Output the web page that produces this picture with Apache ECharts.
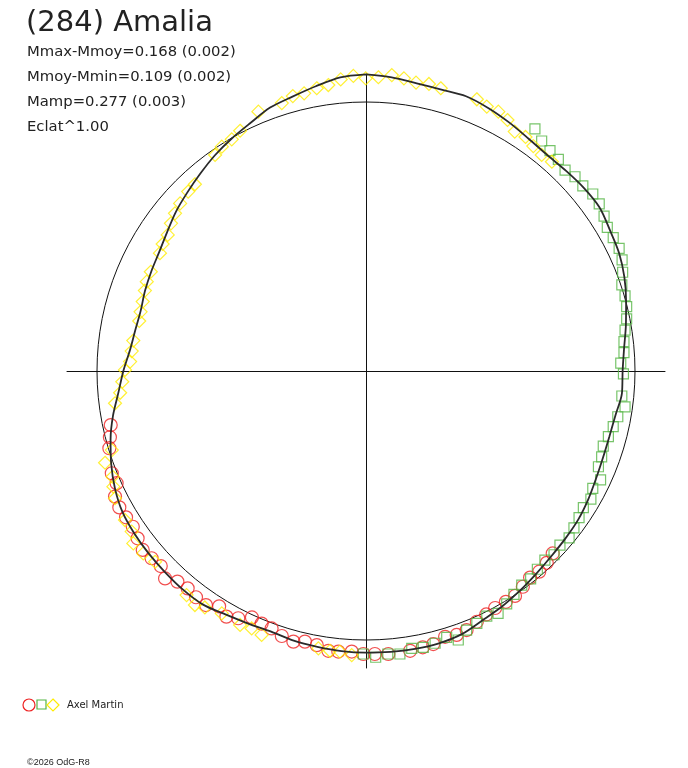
<!DOCTYPE html>
<html lang="fr">
<head>
<meta charset="utf-8">
<title>(284) Amalia</title>
<script src="https://cdn.jsdelivr.net/npm/echarts@6/dist/echarts.min.js"></script>
<style>
    html, body { margin: 0; padding: 0; background: #fff; }
    #main { width: 688px; height: 768px; }
</style>
</head>
<body>
<div id="main"></div>
<script type="text/javascript">

    // fitted curve: radius (1 = mean magnitude circle) every 5 degrees of phase, clockwise from top
    var curveR = [
        1.103, 1.096, 1.086, 1.083, 1.087, 1.078, 1.066, 1.054, 1.048, 1.052, 1.058, 1.060,
        1.047, 1.038, 1.022, 1.001, 0.981, 0.963, 0.954, 0.955, 0.942, 0.937, 0.938, 0.944,
        0.954, 0.963, 0.968, 0.974, 0.984, 0.997, 1.011, 1.023, 1.041, 1.048, 1.049, 1.048,
        1.047, 1.045, 1.041, 1.038, 1.031, 1.036, 1.045, 1.059, 1.060, 1.057, 1.055, 1.052,
        1.046, 1.030, 1.008, 0.983, 0.955, 0.924, 0.902, 0.881, 0.871, 0.867, 0.874, 0.880,
        0.887, 0.902, 0.922, 0.939, 0.958, 0.979, 0.998, 1.017, 1.042, 1.056, 1.075, 1.096
    ];

    // measurements (x, y) in units of the mean circle radius
    var redPts = [
        [-0.949, -0.201], [-0.952, -0.246], [-0.954, -0.287], [-0.945, -0.380], [-0.927, -0.417],
        [-0.933, -0.467], [-0.917, -0.507], [-0.892, -0.544], [-0.867, -0.579], [-0.849, -0.622],
        [-0.830, -0.665], [-0.797, -0.696], [-0.763, -0.725], [-0.747, -0.771], [-0.701, -0.783],
        [-0.663, -0.808], [-0.632, -0.841], [-0.595, -0.870], [-0.546, -0.875], [-0.519, -0.913],
        [-0.475, -0.919], [-0.424, -0.916], [-0.388, -0.939], [-0.351, -0.957], [-0.313, -0.985],
        [-0.270, -1.006], [-0.227, -1.006], [-0.183, -1.019], [-0.140, -1.040], [-0.103, -1.043],
        [-0.053, -1.043], [-0.010, -1.052], [0.033, -1.052], [0.083, -1.052], [0.164, -1.040],
        [0.211, -1.027], [0.250, -1.015], [0.294, -0.988], [0.337, -0.981], [0.374, -0.963],
        [0.412, -0.932], [0.447, -0.905], [0.480, -0.881], [0.520, -0.858], [0.554, -0.836],
        [0.583, -0.802], [0.610, -0.768], [0.644, -0.746], [0.672, -0.713], [0.694, -0.678]
    ];

    var greenPts = [
        [-0.010, -1.052], [0.036, -1.064], [0.081, -1.052], [0.126, -1.052], [0.170, -1.031],
        [0.213, -1.027], [0.257, -1.012], [0.300, -0.990], [0.343, -1.000], [0.374, -0.963],
        [0.412, -0.938], [0.449, -0.911], [0.491, -0.901], [0.523, -0.866], [0.550, -0.830],
        [0.579, -0.796], [0.612, -0.773], [0.637, -0.737], [0.665, -0.703], [0.699, -0.683],
        [0.721, -0.647], [0.755, -0.620], [0.773, -0.583], [0.792, -0.545], [0.808, -0.508],
        [0.836, -0.476], [0.843, -0.436], [0.872, -0.405], [0.864, -0.356], [0.876, -0.319],
        [0.882, -0.279], [0.901, -0.244], [0.919, -0.207], [0.936, -0.170], [0.963, -0.133],
        [0.951, -0.093], [0.957, -0.011], [0.947, 0.029], [0.959, 0.068], [0.959, 0.109],
        [0.963, 0.152], [0.969, 0.194], [0.969, 0.239], [0.963, 0.279], [0.951, 0.320],
        [0.954, 0.367], [0.952, 0.413], [0.941, 0.456], [0.919, 0.496], [0.897, 0.534],
        [0.885, 0.576], [0.867, 0.621], [0.843, 0.658], [0.806, 0.688], [0.777, 0.722],
        [0.740, 0.747], [0.715, 0.787], [0.684, 0.819], [0.653, 0.855], [0.628, 0.900]
    ];

    var yellowPts = [
        [-0.053, -1.056], [-0.097, -1.043], [-0.134, -1.040], [-0.177, -1.031], [-0.388, -0.981],
        [-0.425, -0.957], [-0.468, -0.944], [-0.536, -0.901], [-0.599, -0.879], [-0.636, -0.870],
        [-0.667, -0.833], [-0.784, -0.709], [-0.828, -0.678], [-0.865, -0.641], [-0.871, -0.597],
        [-0.896, -0.554], [-0.933, -0.473], [-0.939, -0.430], [-0.942, -0.393], [-0.970, -0.341],
        [-0.945, -0.294], [-0.933, -0.120], [-0.914, -0.081], [-0.906, -0.040], [-0.896, 0.004],
        [-0.877, 0.035], [-0.871, 0.074], [-0.865, 0.113], [-0.843, 0.186], [-0.838, 0.220],
        [-0.830, 0.258], [-0.822, 0.299], [-0.815, 0.332], [-0.800, 0.369], [-0.766, 0.438],
        [-0.756, 0.472], [-0.737, 0.506], [-0.725, 0.549], [-0.710, 0.586], [-0.691, 0.623],
        [-0.661, 0.667], [-0.636, 0.694], [-0.561, 0.803], [-0.536, 0.834], [-0.499, 0.861],
        [-0.468, 0.893], [-0.400, 0.964], [-0.313, 0.996], [-0.272, 1.022], [-0.230, 1.032],
        [-0.183, 1.051], [-0.140, 1.063], [-0.094, 1.084], [-0.047, 1.097], [-0.001, 1.088],
        [0.046, 1.092], [0.096, 1.100], [0.141, 1.088], [0.186, 1.072], [0.234, 1.067],
        [0.278, 1.051], [0.412, 1.010], [0.449, 0.983], [0.492, 0.964], [0.526, 0.933],
        [0.553, 0.890], [0.593, 0.870], [0.622, 0.836], [0.653, 0.803], [0.691, 0.778]
    ];

    var infoLines = [
        'Mmax-Mmoy=0.168 (0.002)',
        'Mmoy-Mmin=0.109 (0.002)',
        'Mamp=0.277 (0.003)',
        'Eclat^1.00'
    ];

    var RED = '#ee2222', GREEN = '#55b545', YELLOW = '#ffec00';
    var FONT = '"DejaVu Sans", Verdana, sans-serif';

    var myChart = echarts.init(document.getElementById('main'), null, {renderer: 'canvas'});

    var curveData = curveR.map(function (r, i) { return [r, i * 5]; });
    curveData.push([curveR[0], 360]);

    var titles = [{
        text: '(284) Amalia', left: 26, top: 9, padding: 0,
        textStyle: {fontFamily: FONT, fontSize: 29, fontWeight: 'normal', color: '#222'}
    }];
    infoLines.forEach(function (t, i) {
        titles.push({
            text: t, left: 27, top: 45 + i * 25, padding: 0,
            textStyle: {fontFamily: FONT, fontSize: 14.8, fontWeight: 'normal', color: '#222'}
        });
    });

    function markers(data, symbol, size, color) {
        return {
            type: 'scatter', xAxisIndex: 0, yAxisIndex: 0, data: data,
            symbol: symbol, symbolSize: size, z: 3,
            itemStyle: {color: 'rgba(0,0,0,0)', borderColor: color, borderWidth: 1.2},
            emphasis: {disabled: true}
        };
    }

    var hidden = {axisLine: {show: false}, axisTick: {show: false}, axisLabel: {show: false}, splitLine: {show: false}};

    var option = {
        animation: false,
        title: titles,
        // polar 0: its outer ring is the mean-magnitude circle; polar 1 carries the fitted curve
        polar: [
            {center: [366, 371], radius: 269},
            {center: [366, 371], radius: 299}
        ],
        angleAxis: [
            echarts.util.merge({polarIndex: 0, type: 'value', min: 0, max: 360, startAngle: 90, clockwise: true}, hidden),
            echarts.util.merge({polarIndex: 1, type: 'value', min: 0, max: 360, startAngle: 90, clockwise: true}, hidden)
        ],
        radiusAxis: [
            echarts.util.merge({polarIndex: 0, type: 'value', min: 0, max: 1}, hidden),
            echarts.util.merge({polarIndex: 1, type: 'value', min: 0, max: 1.1115}, hidden)
        ],
        grid: {left: 67, top: 74, width: 598, height: 594},
        xAxis: {
            type: 'value', min: -1.1115, max: 1.1115,
            axisLine: {show: true, onZero: true, lineStyle: {color: '#111', width: 1}},
            axisTick: {show: false}, axisLabel: {show: false}, splitLine: {show: false}
        },
        yAxis: {
            type: 'value', min: -1.104, max: 1.104,
            axisLine: {show: true, onZero: true, lineStyle: {color: '#111', width: 1}},
            axisTick: {show: false}, axisLabel: {show: false}, splitLine: {show: false}
        },
        series: [
            {
                type: 'line', coordinateSystem: 'polar', polarIndex: 1, data: curveData, smooth: 0.3,
                showSymbol: false, z: 4,
                lineStyle: {color: '#2a2a2a', width: 1.8}
            },
            markers(redPts, 'circle', 13, RED),
            markers(greenPts, 'rect', 10, GREEN),
            markers(yellowPts, 'diamond', 13, YELLOW)
        ],
        graphic: [
            {type: 'circle', shape: {cx: 29, cy: 705, r: 6}, style: {fill: null, stroke: RED, lineWidth: 1.2}},
            {type: 'rect', shape: {x: 37, y: 700, width: 9, height: 9}, style: {fill: null, stroke: GREEN, lineWidth: 1.2}},
            {type: 'polygon', shape: {points: [[53, 699], [59, 705], [53, 711], [47, 705]]}, style: {fill: null, stroke: YELLOW, lineWidth: 1.2}},
            {type: 'text', left: 67, top: 700, style: {text: 'Axel Martin', font: '10px ' + FONT, fill: '#222'}},
            {type: 'text', left: 27, top: 758, style: {text: '\u00a92026 OdG-R8', font: '9px "Liberation Sans", Arial, sans-serif', fill: '#222'}}
        ]
    };

    myChart.setOption(option);

    // ring of polar 0 drawn as its angle axis line
    myChart.setOption({angleAxis: [{axisLine: {show: true, lineStyle: {color: '#111', width: 1}}}, {}]});

</script>
</body>
</html>
